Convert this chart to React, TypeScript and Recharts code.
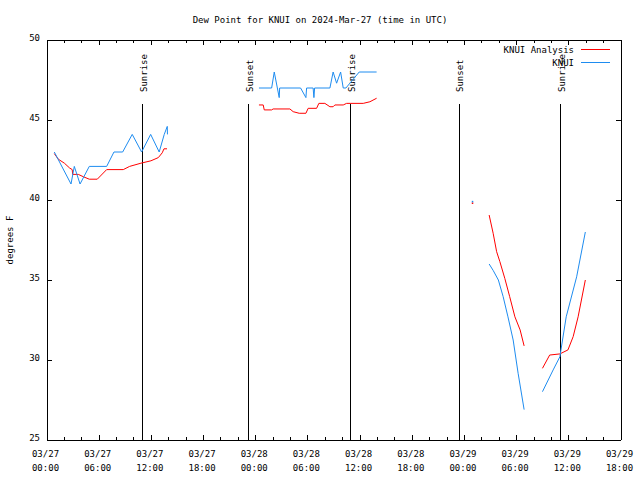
import React from 'react';
import { LineChart, Line, XAxis, YAxis, ReferenceLine, Customized } from 'recharts';

const FONT = '"DejaVu Sans Mono", monospace';

// hours since 03/27 00:00 UTC; null breaks the line
const analysisHours = [
  0.84, 1.3, 2.0, 2.6, 2.9, 2.95, 3.6, 4.2, 4.86, 5.78, 6.86, 8.77, 9.5, 10.8, 11.95, 12.8, 13.25, 13.45, 13.8,
  18,
  24.37, 24.86, 24.98, 25.83, 26.0, 27.93, 28.31, 29.0, 29.77, 30.03, 31.0, 31.26, 31.95, 32.53, 32.9, 33.1, 34.06,
  34.45, 36.36, 37.13, 37.9,
  43, 48.9, 50,
  50.84, 51.3, 51.7, 52.07, 52.64, 53.2, 53.8, 54.4, 54.86,
  56,
  56.97, 57.8, 58.97, 59.9, 60.5, 61.07, 61.9,
];
const analysisDewF = [
  42.9, 42.55, 42.3, 42.0, 41.9, 41.6, 41.6, 41.45, 41.3, 41.3, 41.9, 41.9, 42.1, 42.3, 42.45, 42.65, 42.95, 43.2, 43.2,
  null,
  45.94, 45.94, 45.63, 45.63, 45.69, 45.69, 45.52, 45.42, 45.42, 45.73, 45.73, 46.04, 46.04, 45.83, 45.83, 45.94, 45.94,
  46.04, 46.04, 46.14, 46.36,
  null, 39.8, null,
  39.06, 37.92, 36.77, 36.15, 35.1, 33.96, 32.7, 31.88, 30.88,
  null,
  29.48, 30.31, 30.38, 30.63, 31.46, 32.7, 35.0,
];

const obsHours = [
  0.84, 2.76, 3.14, 3.8, 4.86, 6.86, 7.7, 8.7, 9.8, 10.88, 11.92, 12.9, 13.48, 13.83, 13.85,
  18,
  24.37, 25.83, 26.13, 26.7, 26.75, 29.16, 29.77, 29.85, 30.6, 30.69, 30.77, 32.53, 32.9, 33.3, 33.76, 34.06, 34.37,
  35.9, 37.9,
  43, 48.9, 50,
  50.84, 51.3, 51.9, 52.45, 53.0, 53.6, 54.17, 54.86,
  56,
  56.97, 58.2, 58.97, 59.7, 60.9, 61.9,
];
const obsDewF = [
  43.0, 41.0, 42.1, 41.0, 42.1, 42.1, 43.0, 43.0, 44.1, 43.0, 44.1, 43.0, 44.1, 44.6, 44.1,
  null,
  47.0, 47.0, 48.0, 46.4, 47.0, 47.0, 46.4, 47.0, 47.0, 46.4, 47.0, 47.0, 48.0, 47.3, 48.0, 47.0, 47.0,
  48.0, 48.0,
  null, 39.9, null,
  36.0, 35.6, 35.0, 33.96, 32.7, 31.25, 29.17, 26.9,
  null,
  28.02, 29.38, 30.2, 32.7, 35.2, 38.0,
];

const sunriseHours = [11.0, 34.95, 59.05];
const sunsetHours = [23.2, 47.4];

const minorTickHours = [0, 2, 4, 6, 8, 10, 12, 14, 16, 18, 20, 22, 24, 26, 28, 30, 32, 34, 36, 38, 40, 42, 44, 46, 48, 50, 52, 54, 56, 58, 60, 62, 64, 66];
const majorTickHours = [0, 6, 12, 18, 24, 30, 36, 42, 48, 54, 60, 66];
const tickDates = ['03/27', '03/27', '03/27', '03/27', '03/28', '03/28', '03/28', '03/28', '03/29', '03/29', '03/29', '03/29'];
const tickTimes = ['00:00', '06:00', '12:00', '18:00', '00:00', '06:00', '12:00', '18:00', '00:00', '06:00', '12:00', '18:00'];
const yTicks = [25, 30, 35, 40, 45, 50];

const analysisRows = analysisHours.map((h, i) => ({ h, v: analysisDewF[i] }));
const obsRows = obsHours.map((h, i) => ({ h, v: obsDewF[i] }));

const RED = '#ff0000';
const BLUE = '#1e8cf0';

const soloDot = (rows: any[], color: string) => (p: any) => {
  const i = p.index;
  const alone = rows[i] && rows[i].v != null && rows[i - 1]?.v == null && rows[i + 1]?.v == null;
  if (!alone || p.cy == null) return <g key={'d' + i} />;
  return <rect key={'d' + i} x={p.cx - 0.5} y={p.cy - 0.75} width={1.5} height={1.5} fill={color} />;
};

const txt = { fontFamily: FONT, fontSize: 9, fill: '#000' };

const BottomTick = (props: any) => {
  const { x, y, payload } = props;
  const k = majorTickHours.indexOf(payload.value);
  const major = k >= 0;
  return (
    <g>
      <line x1={x} x2={x} y1={y} y2={y - (major ? 5 : 3)} stroke="#000" shapeRendering="crispEdges" />
      {major && (
        <text x={x - 1.5} y={y + 17} textAnchor="middle" {...txt}>{tickDates[k]}</text>
      )}
      {major && (
        <text x={x - 1.5} y={y + 31} textAnchor="middle" {...txt}>{tickTimes[k]}</text>
      )}
    </g>
  );
};

const TopTick = (props: any) => {
  const { x, y, payload } = props;
  const major = majorTickHours.indexOf(payload.value) >= 0;
  return <line x1={x} x2={x} y1={y} y2={y + (major ? 5 : 3)} stroke="#000" shapeRendering="crispEdges" />;
};

const LeftTick = (props: any) => {
  const { x, y, payload } = props;
  return (
    <g>
      <line x1={x} x2={x + 5} y1={y} y2={y} stroke="#000" shapeRendering="crispEdges" />
      <text x={x - 7} y={y + 1} textAnchor="end" {...txt}>{payload.value}</text>
    </g>
  );
};

const RightTick = (props: any) => {
  const { x, y } = props;
  return <line x1={x} x2={x - 5} y1={y} y2={y} stroke="#000" shapeRendering="crispEdges" />;
};

const sunLabel = (name: string) => (props: any) => {
  const vb = props.viewBox || {};
  return (
    <text transform={`translate(${vb.x + 4},${vb.y - 12}) rotate(-90)`} {...txt}>{name}</text>
  );
};

const Overlay = () => (
  <g>
    <text x={320} y={23} textAnchor="middle" {...txt}>Dew Point for KNUI on 2024-Mar-27 (time in UTC)</text>
    <text transform="translate(13,240) rotate(-90)" textAnchor="middle" {...txt}>degrees F</text>
    <text x={574} y={53} textAnchor="end" {...txt}>KNUI Analysis</text>
    <line x1={581} x2={610} y1={49} y2={49} stroke={RED} shapeRendering="crispEdges" />
    <text x={574} y={66} textAnchor="end" {...txt}>KNUI</text>
    <line x1={581} x2={610} y1={62} y2={62} stroke={BLUE} shapeRendering="crispEdges" />
  </g>
);

const axisLine = { stroke: '#000', shapeRendering: 'crispEdges' };

export default function App() {
  return (
    <div style={{ position: 'absolute', left: 0, top: 0, background: '#fff' }}>
      <LineChart width={640} height={480} margin={{ top: 39, right: 18, bottom: 39, left: 46 }}>
        <XAxis
          xAxisId="b"
          dataKey="h"
          type="number"
          domain={[0, 66]}
          ticks={minorTickHours}
          interval={0}
          allowDataOverflow
          height={1}
          tickSize={0}
          tickMargin={0}
          tickLine={false}
          axisLine={axisLine}
          tick={<BottomTick />}
        />
        <XAxis
          xAxisId="t"
          orientation="top"
          dataKey="h"
          type="number"
          domain={[0, 66]}
          ticks={minorTickHours}
          interval={0}
          allowDataOverflow
          height={1}
          tickSize={0}
          tickMargin={0}
          tickLine={false}
          axisLine={axisLine}
          tick={<TopTick />}
        />
        <YAxis
          yAxisId="l"
          type="number"
          domain={[25, 50]}
          ticks={yTicks}
          interval={0}
          allowDataOverflow
          width={1}
          tickSize={0}
          tickMargin={0}
          tickLine={false}
          axisLine={axisLine}
          tick={<LeftTick />}
        />
        <YAxis
          yAxisId="r"
          orientation="right"
          type="number"
          domain={[25, 50]}
          ticks={yTicks}
          interval={0}
          allowDataOverflow
          width={1}
          tickSize={0}
          tickMargin={0}
          tickLine={false}
          axisLine={axisLine}
          tick={<RightTick />}
        />
        {sunriseHours.map((h) => (
          <ReferenceLine
            key={'sr' + h}
            xAxisId="b"
            yAxisId="l"
            segment={[{ x: h, y: 25 }, { x: h, y: 46 }]}
            stroke="#000"
            shapeRendering="crispEdges"
            label={sunLabel('Sunrise')}
          />
        ))}
        {sunsetHours.map((h) => (
          <ReferenceLine
            key={'ss' + h}
            xAxisId="b"
            yAxisId="l"
            segment={[{ x: h, y: 25 }, { x: h, y: 46 }]}
            stroke="#000"
            shapeRendering="crispEdges"
            label={sunLabel('Sunset')}
          />
        ))}
        <Line
          xAxisId="b"
          yAxisId="l"
          data={analysisRows}
          dataKey="v"
          type="linear"
          stroke={RED}
          strokeWidth={1}
          dot={soloDot(analysisRows, RED)}
          activeDot={false}
          isAnimationActive={false}
        />
        <Line
          xAxisId="b"
          yAxisId="l"
          data={obsRows}
          dataKey="v"
          type="linear"
          stroke={BLUE}
          strokeWidth={1}
          dot={soloDot(obsRows, BLUE)}
          activeDot={false}
          isAnimationActive={false}
        />
        <Customized component={<Overlay />} />
      </LineChart>
    </div>
  );
}
